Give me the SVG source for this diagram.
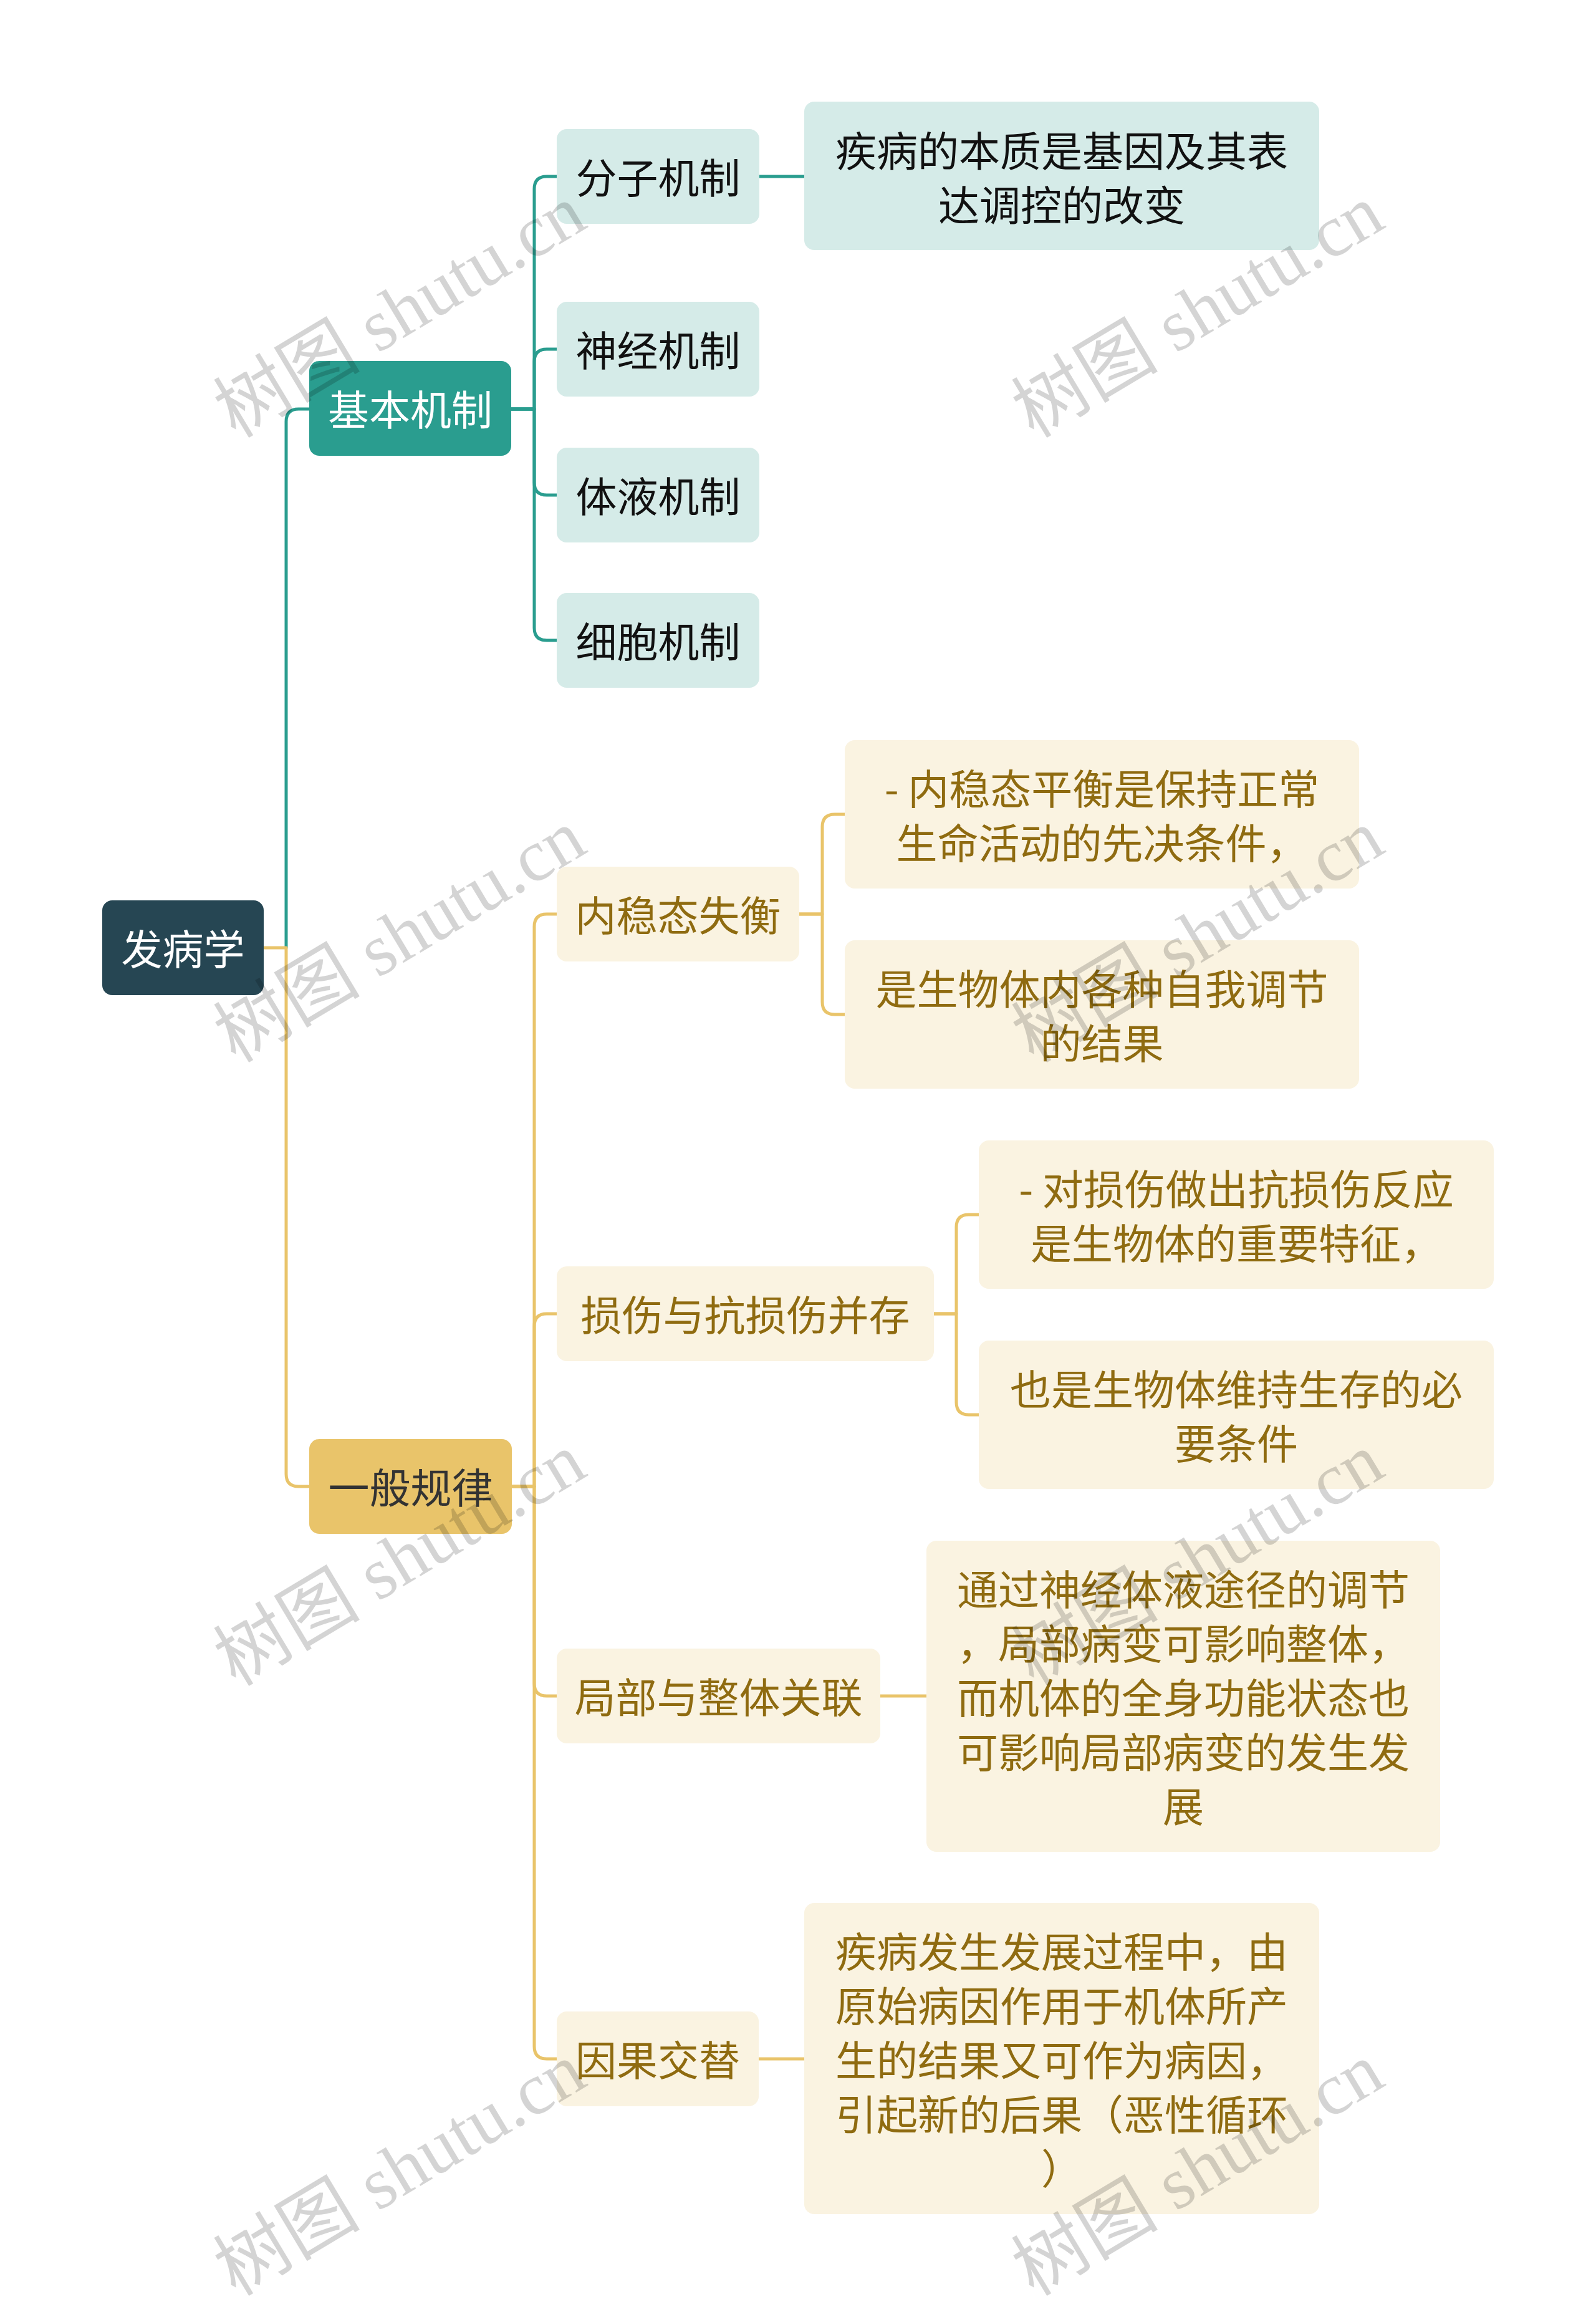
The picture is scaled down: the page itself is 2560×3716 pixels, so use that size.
<svg xmlns="http://www.w3.org/2000/svg" width="2560" height="3716" viewBox="0 0 2560 3716">
<style>
text{font-family:"Noto Sans CJK SC","Noto Sans",sans-serif;font-size:66px;text-anchor:middle}
.c{fill:none;stroke-width:5;stroke-linecap:round;stroke-linejoin:round}
.ct{stroke:#2a9d8f}
.cy{stroke:#e9c46a}
.root rect{fill:#264653}
.root text{fill:#ffffff}
.l1t rect{fill:#2a9d8f}
.l1t text{fill:#ffffff}
.l1y rect{fill:#e9c46a}
.l1y text{fill:#333333}
.tl rect{fill:#d5ebe8}
.tl text{fill:#111111}
.yl rect{fill:#faf3e1}
.yl text{fill:#8f6b10}
.wm{font-family:"Liberation Serif","Noto Sans CJK SC",serif;font-size:118px;text-anchor:start;fill:#000000;fill-opacity:0.17}
</style>
<rect x="0" y="0" width="2560" height="3716" fill="#ffffff"/>
<g id="connectors">
<path class="c ct" d="M459,1520 V676 Q459,656 479,656 H496"/>
<path class="c ct" d="M820,656 H857 V303 Q857,283 877,283 H893"/>
<path class="c ct" d="M820,656 H857 V580 Q857,560 877,560 H893"/>
<path class="c ct" d="M820,656 H857 V774 Q857,794 877,794 H893"/>
<path class="c ct" d="M820,656 H857 V1007 Q857,1027 877,1027 H893"/>
<path class="c ct" d="M1218,283 H1290"/>
<path class="c cy" d="M423,1520 H459 V2364 Q459,2384 479,2384 H496"/>
<path class="c cy" d="M821,2384 H857 V1486 Q857,1466 877,1466 H893"/>
<path class="c cy" d="M821,2384 H857 V2127 Q857,2107 877,2107 H893"/>
<path class="c cy" d="M821,2384 H857 V2700 Q857,2720 877,2720 H893"/>
<path class="c cy" d="M821,2384 H857 V3282 Q857,3302 877,3302 H893"/>
<path class="c cy" d="M1282,1466 H1319 V1326 Q1319,1306 1339,1306 H1355"/>
<path class="c cy" d="M1282,1466 H1319 V1607 Q1319,1627 1339,1627 H1355"/>
<path class="c cy" d="M1498,2107 H1534 V1968 Q1534,1948 1554,1948 H1570"/>
<path class="c cy" d="M1498,2107 H1534 V2249 Q1534,2269 1554,2269 H1570"/>
<path class="c cy" d="M1412,2720 H1486"/>
<path class="c cy" d="M1217,3302 H1290"/>
</g>
<g id="root" class="root"><rect x="164" y="1444" width="259" height="152" rx="16"/><text x="293.5" y="1547">发病学</text></g>
<g id="n1" class="l1t"><rect x="496" y="579" width="324" height="152" rx="16"/><text x="658" y="682">基本机制</text></g>
<g id="n1a" class="tl"><rect x="893" y="207" width="325" height="152" rx="16"/><text x="1055.5" y="310">分子机制</text></g>
<g id="n1a1" class="tl"><rect x="1290" y="163" width="826" height="238" rx="16"/><text x="1703" y="266.5">疾病的本质是基因及其表</text><text x="1703" y="353.5">达调控的改变</text></g>
<g id="n1b" class="tl"><rect x="893" y="484" width="325" height="152" rx="16"/><text x="1055.5" y="587">神经机制</text></g>
<g id="n1c" class="tl"><rect x="893" y="718" width="325" height="152" rx="16"/><text x="1055.5" y="821">体液机制</text></g>
<g id="n1d" class="tl"><rect x="893" y="951" width="325" height="152" rx="16"/><text x="1055.5" y="1054">细胞机制</text></g>
<g id="n2" class="l1y"><rect x="496" y="2308" width="325" height="152" rx="16"/><text x="658.5" y="2411">一般规律</text></g>
<g id="n2a" class="yl"><rect x="893" y="1390" width="389" height="152" rx="16"/><text x="1087.5" y="1493">内稳态失衡</text></g>
<g id="n2a1" class="yl"><rect x="1355" y="1187" width="825" height="238" rx="16"/><text x="1767.5" y="1289.5">- 内稳态平衡是保持正常</text><text x="1767.5" y="1376.5">生命活动的先决条件，</text></g>
<g id="n2a2" class="yl"><rect x="1355" y="1508" width="825" height="238" rx="16"/><text x="1767.5" y="1610.5">是生物体内各种自我调节</text><text x="1767.5" y="1697.5">的结果</text></g>
<g id="n2b" class="yl"><rect x="893" y="2031" width="605" height="152" rx="16"/><text x="1195.5" y="2134">损伤与抗损伤并存</text></g>
<g id="n2b1" class="yl"><rect x="1570" y="1829" width="826" height="238" rx="16"/><text x="1983" y="1931.5">- 对损伤做出抗损伤反应</text><text x="1983" y="2018.5">是生物体的重要特征，</text></g>
<g id="n2b2" class="yl"><rect x="1570" y="2150" width="826" height="238" rx="16"/><text x="1983" y="2252.5">也是生物体维持生存的必</text><text x="1983" y="2339.5">要条件</text></g>
<g id="n2c" class="yl"><rect x="893" y="2644" width="519" height="152" rx="16"/><text x="1152.5" y="2747">局部与整体关联</text></g>
<g id="n2c1" class="yl"><rect x="1486" y="2471" width="824" height="499" rx="16"/><text x="1898" y="2573.5">通过神经体液途径的调节</text><text x="1898" y="2660.5">，局部病变可影响整体，</text><text x="1898" y="2747.5">而机体的全身功能状态也</text><text x="1898" y="2834.5">可影响局部病变的发生发</text><text x="1898" y="2921.5">展</text></g>
<g id="n2d" class="yl"><rect x="893" y="3226" width="324" height="152" rx="16"/><text x="1055" y="3329">因果交替</text></g>
<g id="n2d1" class="yl"><rect x="1290" y="3052" width="826" height="499" rx="16"/><text x="1703" y="3154.5">疾病发生发展过程中，由</text><text x="1703" y="3241.5">原始病因作用于机体所产</text><text x="1703" y="3328.5">生的结果又可作为病因，</text><text x="1703" y="3415.5">引起新的后果（恶性循环</text><text x="1703" y="3502.5">）</text></g>
<g id="watermarks">
<text class="wm" x="378" y="704" transform="rotate(-31 378 704)">树图 shutu.cn</text>
<text class="wm" x="1658" y="704" transform="rotate(-31 1658 704)">树图 shutu.cn</text>
<text class="wm" x="378" y="1706" transform="rotate(-31 378 1706)">树图 shutu.cn</text>
<text class="wm" x="1658" y="1706" transform="rotate(-31 1658 1706)">树图 shutu.cn</text>
<text class="wm" x="378" y="2706" transform="rotate(-31 378 2706)">树图 shutu.cn</text>
<text class="wm" x="1658" y="2706" transform="rotate(-31 1658 2706)">树图 shutu.cn</text>
<text class="wm" x="378" y="3684" transform="rotate(-31 378 3684)">树图 shutu.cn</text>
<text class="wm" x="1658" y="3684" transform="rotate(-31 1658 3684)">树图 shutu.cn</text>
</g>
</svg>
